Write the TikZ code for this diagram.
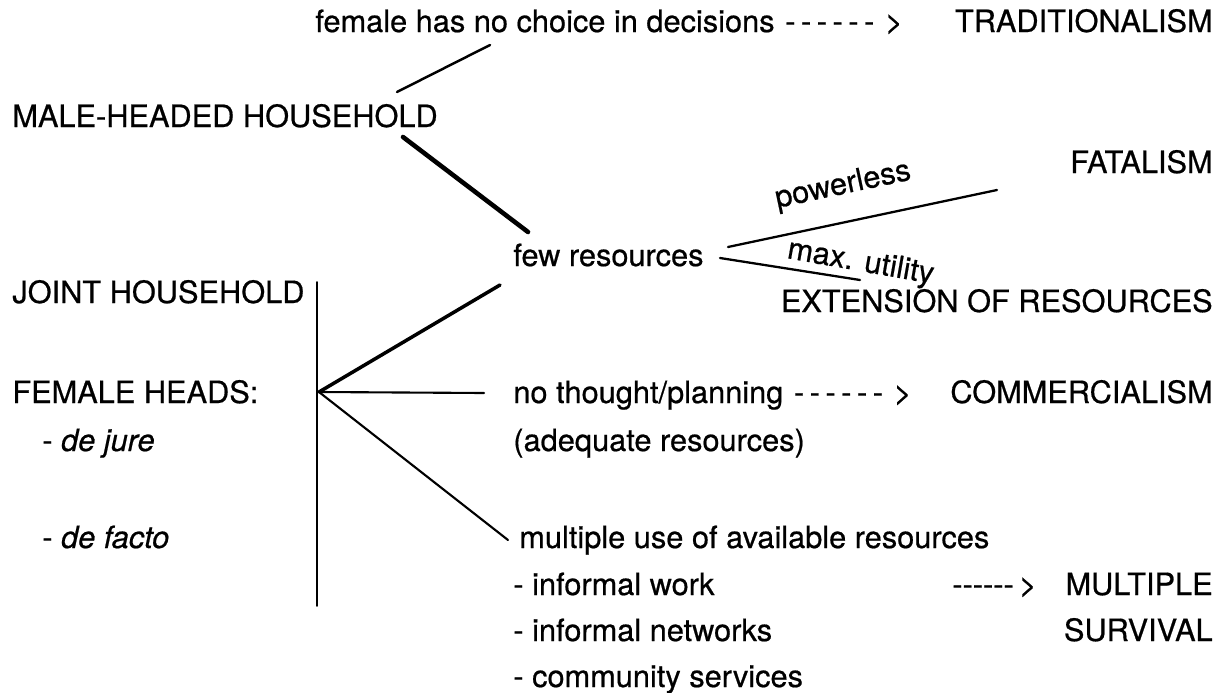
\documentclass[tikz,border=0pt]{standalone}
\usepackage{fontspec}
\setmainfont{TeX Gyre Heros}[UprightFeatures={FakeBold=0.6},ItalicFeatures={FakeBold=0.6}]
\newcommand{\dashto}[1]{-\kern#1-\kern#1-\kern#1-\kern#1-\kern#1-\kern#1\,>}
\begin{document}
\begin{tikzpicture}[line cap=round, line join=round, x=0.02cm, y=-0.02cm,
		font=\fontsize{17.5}{20}\selectfont,
		txt/.style={inner sep=0pt, anchor=base west},
		rtxt/.style={inner sep=0pt, anchor=base east}]
	\useasboundingbox (0,0) rectangle (1228,693);
	% left column
	\node[txt] (male) at (12,127) {MALE-HEADED HOUSEHOLD};
	\node[txt] (joint) at (12,303) {JOINT HOUSEHOLD};
	\node[txt] (fem) at (12,403) {FEMALE HEADS:};
	\node[txt] (jure) at (42,451) {- \textit{de jure}};
	\node[txt] (facto) at (42,548) {- \textit{de facto}};
	% middle column
	\node[txt] (choice) at (315,32) {female has no choice in decisions};
	\node[txt] (arrA) at ([xshift=0.2cm]choice.base east) {\dashto{.18em}};
	\node[txt] (few) at (513,266) {few resources};
	\node[txt] (plan) at (513,403) {no thought/planning};
	\node[txt] (arrB) at ([xshift=0.2cm]plan.base east) {\dashto{.18em}};
	\node[txt] (adeq) at (513,451) {(adequate resources)};
	\node[txt] (multi) at (519,548) {multiple use of available resources};
	\node[txt] (work) at (513,595) {- informal work};
	\node[txt] (arrC) at (952,595) {\dashto{0pt}};
	\node[txt] (netw) at (513,641) {- informal networks};
	\node[txt] (comm) at (513,687) {- community services};
	\node[txt, rotate=12] (pow) at (777,208) {powerless};
	\node[txt, rotate=-10] (util) at (786,258) {max. utility};
	% right column
	\node[rtxt] (trad) at (1213,32) {TRADITIONALISM};
	\node[rtxt] (fatal) at (1213,173) {FATALISM};
	\node[rtxt] (ext) at (1213,312) {EXTENSION OF RESOURCES};
	\node[rtxt] (comml) at (1213,403) {COMMERCIALISM};
	\node[rtxt] (mult) at (1213,595) {MULTIPLE};
	\node[rtxt] (surv) at (1213,641) {SURVIVAL};
	% connectors
	\coordinate (m1) at (397,92);
	\coordinate (m2) at (490,45);
	\coordinate (m3) at (403,137);
	\coordinate (m4) at (528,232);
	\draw[line width=1.4pt] (m1) -- (m2);
	\draw[line width=2.6pt] (m3) -- (m4);
	\coordinate (r0) at (728,247);
	\coordinate (r1) at (997,190);
	\coordinate (r2) at (720,258);
	\coordinate (r3) at (860,280);
	\draw[line width=1.3pt] (r0) -- (r1);
	\draw[line width=1.3pt] (r2) -- (r3);
	\coordinate (v0) at (317,282);
	\coordinate (v1) at (317,606);
	\draw[line width=1pt] (v0) -- (v1);
	\coordinate (apex) at (319,392);
	\coordinate (f1) at (500,285);
	\coordinate (f2) at (484,393);
	\coordinate (f3) at (508,540);
	\draw[line width=2pt] (apex) -- (f1);
	\draw[line width=1.2pt] (apex) -- (f2);
	\draw[line width=1.2pt] (apex) -- (f3);
\end{tikzpicture}
\end{document}
